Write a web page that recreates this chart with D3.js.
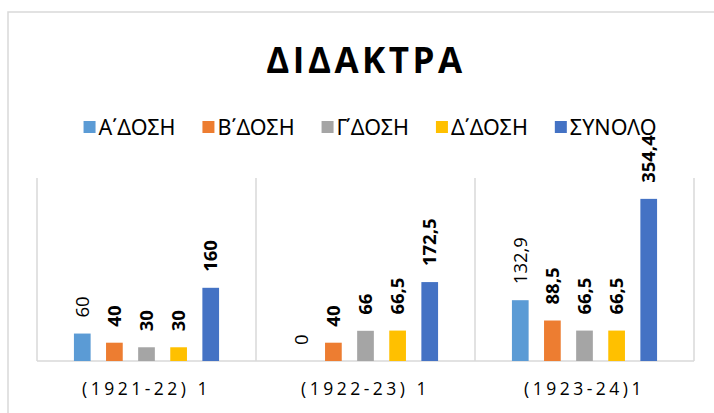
<!DOCTYPE html>
<html>
<head>
<meta charset="utf-8">
<script src="https://cdn.jsdelivr.net/npm/d3@7"></script>
<style>
  body { margin: 0; background: #fff; }
  svg { display: block; font-family: "Open Sans", sans-serif; }
</style>
</head>
<body>
<div id="chart"></div>
<script>
// ΔΙΔΑΚΤΡΑ - clustered columns per school year
const categories = ["(1921-22) 1", "(1922-23) 1", "(1923-24)1"];
const seriesNames = ["Α΄ΔΟΣΗ", "Β΄ΔΟΣΗ", "Γ΄ΔΟΣΗ", "Δ΄ΔΟΣΗ", "ΣΥΝΟΛΟ"];
const dosiA = [60, 0, 132.9];
const dosiB = [40, 40, 88.5];
const dosiG = [30, 66, 66.5];
const dosiD = [30, 66.5, 66.5];
const synolo = [160, 172.5, 354.4];
const yDomain = [0, 400];

function init() {
    const values = [dosiA, dosiB, dosiG, dosiD, synolo];
    const colors = ["#5B9BD5", "#ED7D31", "#A5A5A5", "#FFC000", "#4472C4"];

    const width = 714, height = 413;
    const margin = {left: 37, right: 20, top: 178, bottom: 52};

    const svg = d3.select("#chart").append("svg")
        .attr("width", width)
        .attr("height", height);

    // outer chart frame (right/bottom fall outside the picture)
    svg.append("rect")
        .attr("x", 8).attr("y", 12)
        .attr("width", 760).attr("height", 460)
        .attr("fill", "none")
        .attr("stroke", "#d9d9d9")
        .attr("stroke-width", 1.5);

    svg.append("text")
        .attr("x", 366).attr("y", 73)
        .attr("text-anchor", "middle")
        .attr("font-size", 35)
        .attr("font-weight", "bold")
        .attr("letter-spacing", 3.5)
        .attr("fill", "#000")
        .text("ΔΙΔΑΚΤΡΑ");

    const x0 = d3.scaleBand()
        .domain(categories)
        .range([margin.left, width - margin.right])
        .padding(0);

    const x1 = d3.scaleBand()
        .domain(seriesNames)
        .range([0, x0.bandwidth()])
        .paddingInner(0.48)
        .paddingOuter(1.15);

    const y = d3.scaleLinear()
        .domain(yDomain)
        .range([height - margin.bottom, margin.top]);

    // vertical separators between categories + baseline
    const grid = svg.append("g").attr("stroke", "#d9d9d9").attr("stroke-width", 1.5);
    const edges = categories.map(c => x0(c)).concat([x0.range()[1]]);
    grid.selectAll("line.v")
        .data(edges)
        .enter().append("line")
        .attr("x1", d => d).attr("x2", d => d)
        .attr("y1", y(yDomain[1])).attr("y2", y(0));
    grid.append("line")
        .attr("x1", x0.range()[0]).attr("x2", x0.range()[1])
        .attr("y1", y(0)).attr("y2", y(0));

    const rows = [];
    categories.forEach((c, i) => {
        seriesNames.forEach((s, j) => {
            rows.push({cat: c, series: s, idx: j, value: values[j][i]});
        });
    });

    const fmt = v => String(v).replace(".", ",");

    svg.append("g")
        .selectAll("rect")
        .data(rows)
        .enter().append("rect")
        .attr("x", d => x0(d.cat) + x1(d.series))
        .attr("y", d => y(d.value))
        .attr("width", x1.bandwidth())
        .attr("height", d => y(0) - y(d.value))
        .attr("fill", d => colors[d.idx]);

    svg.append("g")
        .selectAll("text")
        .data(rows)
        .enter().append("text")
        .attr("transform", d => {
            const cx = x0(d.cat) + x1(d.series) + x1.bandwidth() / 2 + 6.5;
            return `translate(${cx},${y(d.value) - 16}) rotate(-90)`;
        })
        .attr("font-size", 18.5)
        .attr("font-weight", d => d.idx === 0 ? "normal" : "bold")
        .attr("fill", "#000")
        .text(d => fmt(d.value));

    // category labels
    const xAxis = svg.append("g")
        .attr("transform", `translate(0,${y(0)})`)
        .call(d3.axisBottom(x0).tickSize(0).tickPadding(22));
    xAxis.select(".domain").remove();
    xAxis.selectAll("text")
        .attr("font-family", "Open Sans, sans-serif")
        .attr("font-size", 17.5)
        .attr("letter-spacing", 3.5)
        .attr("fill", "#000");

    // legend
    const legend = svg.append("g");
    let lx = 0;
    seriesNames.forEach((s, j) => {
        const g = legend.append("g").attr("transform", `translate(${lx},0)`);
        g.append("rect")
            .attr("x", 0).attr("y", 121)
            .attr("width", 12).attr("height", 12)
            .attr("fill", colors[j]);
        const t = g.append("text")
            .attr("x", 15).attr("y", 134.5)
            .attr("font-family", "Noto Sans, DejaVu Sans, sans-serif")
            .attr("font-size", 21.5)
            .attr("fill", "#000")
            .text(s);
        lx += 15 + t.node().getComputedTextLength() + 27;
    });
    const legendWidth = lx - 27;
    legend.attr("transform", `translate(${370 - legendWidth / 2},0)`);
}

init();
</script>
</body>
</html>
